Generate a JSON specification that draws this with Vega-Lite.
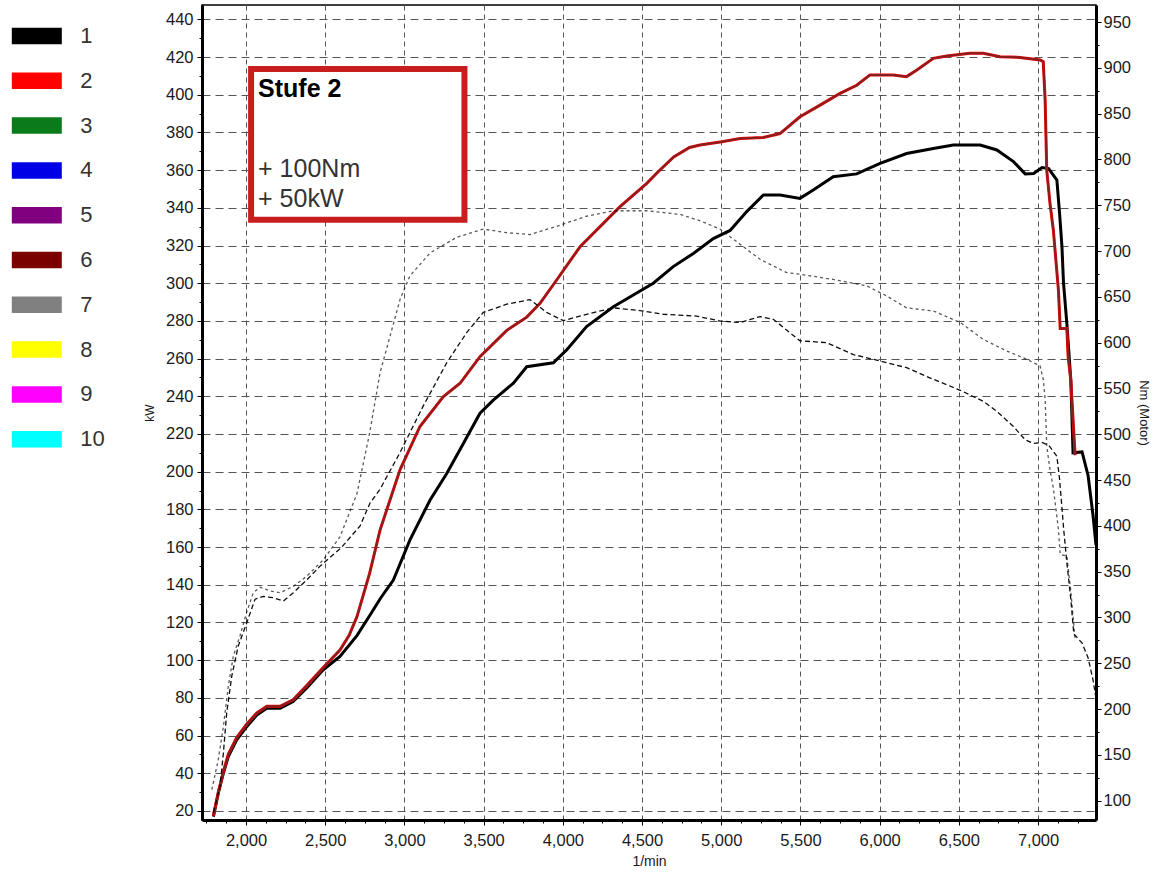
{
  "$schema": "https://vega.github.io/schema/vega-lite/v6.json",
  "width": 894,
  "height": 815,
  "autosize": {"type": "none"},
  "padding": {"left": 202, "top": 5, "right": 66, "bottom": 52},
  "background": "white",
  "config": {
    "view": {"stroke": "#000", "strokeWidth": 1.5},
    "axis": {
      "labelFont": "Liberation Sans", "labelFontSize": 16.5, "labelColor": "#1a1a1a",
      "titleFont": "Liberation Sans", "titleFontWeight": "normal", "titleColor": "#1a1a1a",
      "domainColor": "#000", "domainWidth": 3, "tickColor": "#000", "tickSize": 5, "tickWidth": 1,
      "gridColor": "#555555", "gridWidth": 1, "gridDash": [8, 5]
    }
  },
  "datasets": {
    "power": [
      {"rpm": 1794, "kW": 17, "s": "1"}, {"rpm": 1825, "kW": 29.4, "s": "1"}, {"rpm": 1857, "kW": 40, "s": "1"},
      {"rpm": 1888, "kW": 48.8, "s": "1"}, {"rpm": 1941, "kW": 57.7, "s": "1"}, {"rpm": 2004, "kW": 64.7, "s": "1"},
      {"rpm": 2068, "kW": 70.9, "s": "1"}, {"rpm": 2131, "kW": 74.5, "s": "1"}, {"rpm": 2215, "kW": 74.5, "s": "1"},
      {"rpm": 2297, "kW": 78, "s": "1"}, {"rpm": 2383, "kW": 85.3, "s": "1"}, {"rpm": 2486, "kW": 94.8, "s": "1"},
      {"rpm": 2593, "kW": 102, "s": "1"}, {"rpm": 2700, "kW": 113, "s": "1"}, {"rpm": 2783, "kW": 124, "s": "1"},
      {"rpm": 2850, "kW": 133, "s": "1"}, {"rpm": 2930, "kW": 142.5, "s": "1"}, {"rpm": 3035, "kW": 163.8, "s": "1"},
      {"rpm": 3162, "kW": 185, "s": "1"}, {"rpm": 3267, "kW": 199, "s": "1"}, {"rpm": 3372, "kW": 215, "s": "1"},
      {"rpm": 3477, "kW": 231, "s": "1"}, {"rpm": 3561, "kW": 238, "s": "1"}, {"rpm": 3688, "kW": 247, "s": "1"},
      {"rpm": 3772, "kW": 255.7, "s": "1"}, {"rpm": 3940, "kW": 257.8, "s": "1"}, {"rpm": 4024, "kW": 264.6, "s": "1"},
      {"rpm": 4150, "kW": 277, "s": "1"}, {"rpm": 4319, "kW": 287.5, "s": "1"}, {"rpm": 4445, "kW": 293.7, "s": "1"},
      {"rpm": 4571, "kW": 300, "s": "1"}, {"rpm": 4697, "kW": 308.8, "s": "1"}, {"rpm": 4824, "kW": 315.8, "s": "1"},
      {"rpm": 4950, "kW": 323.7, "s": "1"}, {"rpm": 5056, "kW": 328, "s": "1"}, {"rpm": 5161, "kW": 338, "s": "1"},
      {"rpm": 5266, "kW": 346.8, "s": "1"}, {"rpm": 5371, "kW": 346.8, "s": "1"}, {"rpm": 5497, "kW": 345, "s": "1"},
      {"rpm": 5581, "kW": 349.4, "s": "1"}, {"rpm": 5707, "kW": 356.5, "s": "1"}, {"rpm": 5855, "kW": 358, "s": "1"},
      {"rpm": 6003, "kW": 363.6, "s": "1"}, {"rpm": 6170, "kW": 368.8, "s": "1"}, {"rpm": 6339, "kW": 371.5, "s": "1"},
      {"rpm": 6465, "kW": 373.3, "s": "1"}, {"rpm": 6635, "kW": 373.3, "s": "1"}, {"rpm": 6740, "kW": 370.7, "s": "1"},
      {"rpm": 6845, "kW": 364.5, "s": "1"}, {"rpm": 6919, "kW": 358, "s": "1"}, {"rpm": 6972, "kW": 358.2, "s": "1"},
      {"rpm": 7025, "kW": 361.4, "s": "1"}, {"rpm": 7067, "kW": 360.8, "s": "1"}, {"rpm": 7119, "kW": 354.7, "s": "1"},
      {"rpm": 7136, "kW": 337, "s": "1"}, {"rpm": 7151, "kW": 319.4, "s": "1"}, {"rpm": 7161, "kW": 300, "s": "1"},
      {"rpm": 7182, "kW": 278.6, "s": "1"}, {"rpm": 7207, "kW": 248.6, "s": "1"}, {"rpm": 7221, "kW": 210, "s": "1"},
      {"rpm": 7278, "kW": 210.5, "s": "1"}, {"rpm": 7316, "kW": 198, "s": "1"}, {"rpm": 7347, "kW": 177, "s": "1"},
      {"rpm": 7366, "kW": 161, "s": "1"},
      {"rpm": 1794, "kW": 17.5, "s": "2"}, {"rpm": 1825, "kW": 30, "s": "2"}, {"rpm": 1857, "kW": 41, "s": "2"},
      {"rpm": 1888, "kW": 50, "s": "2"}, {"rpm": 1941, "kW": 59, "s": "2"}, {"rpm": 2004, "kW": 66, "s": "2"},
      {"rpm": 2068, "kW": 72, "s": "2"}, {"rpm": 2131, "kW": 75.5, "s": "2"}, {"rpm": 2215, "kW": 75.5, "s": "2"},
      {"rpm": 2297, "kW": 79, "s": "2"}, {"rpm": 2383, "kW": 86.5, "s": "2"}, {"rpm": 2486, "kW": 96, "s": "2"},
      {"rpm": 2593, "kW": 105.4, "s": "2"}, {"rpm": 2650, "kW": 113, "s": "2"}, {"rpm": 2700, "kW": 123, "s": "2"},
      {"rpm": 2780, "kW": 146, "s": "2"}, {"rpm": 2846, "kW": 169, "s": "2"}, {"rpm": 2972, "kW": 201, "s": "2"},
      {"rpm": 3098, "kW": 224, "s": "2"}, {"rpm": 3246, "kW": 239.8, "s": "2"}, {"rpm": 3351, "kW": 246.9, "s": "2"},
      {"rpm": 3477, "kW": 261, "s": "2"}, {"rpm": 3646, "kW": 275, "s": "2"}, {"rpm": 3772, "kW": 282, "s": "2"},
      {"rpm": 3856, "kW": 289.3, "s": "2"}, {"rpm": 3961, "kW": 301.7, "s": "2"}, {"rpm": 4109, "kW": 319.4, "s": "2"},
      {"rpm": 4235, "kW": 330, "s": "2"}, {"rpm": 4361, "kW": 340.6, "s": "2"}, {"rpm": 4530, "kW": 353, "s": "2"},
      {"rpm": 4600, "kW": 359, "s": "2"}, {"rpm": 4700, "kW": 367, "s": "2"}, {"rpm": 4800, "kW": 372, "s": "2"},
      {"rpm": 4866, "kW": 373.3, "s": "2"}, {"rpm": 5003, "kW": 375, "s": "2"}, {"rpm": 5119, "kW": 376.8, "s": "2"},
      {"rpm": 5266, "kW": 377.3, "s": "2"}, {"rpm": 5371, "kW": 379.4, "s": "2"}, {"rpm": 5497, "kW": 388.3, "s": "2"},
      {"rpm": 5624, "kW": 394.5, "s": "2"}, {"rpm": 5750, "kW": 400.7, "s": "2"}, {"rpm": 5855, "kW": 405, "s": "2"},
      {"rpm": 5939, "kW": 410.5, "s": "2"}, {"rpm": 6086, "kW": 410.5, "s": "2"}, {"rpm": 6170, "kW": 409.6, "s": "2"},
      {"rpm": 6233, "kW": 413, "s": "2"}, {"rpm": 6339, "kW": 419.3, "s": "2"}, {"rpm": 6423, "kW": 420.5, "s": "2"},
      {"rpm": 6570, "kW": 422, "s": "2"}, {"rpm": 6654, "kW": 422, "s": "2"}, {"rpm": 6760, "kW": 420.2, "s": "2"},
      {"rpm": 6886, "kW": 419.8, "s": "2"}, {"rpm": 7013, "kW": 418.4, "s": "2"}, {"rpm": 7033, "kW": 417.5, "s": "2"},
      {"rpm": 7045, "kW": 397, "s": "2"}, {"rpm": 7055, "kW": 360, "s": "2"}, {"rpm": 7076, "kW": 342, "s": "2"},
      {"rpm": 7097, "kW": 328, "s": "2"}, {"rpm": 7129, "kW": 296, "s": "2"}, {"rpm": 7140, "kW": 276, "s": "2"},
      {"rpm": 7182, "kW": 276, "s": "2"}, {"rpm": 7190, "kW": 261, "s": "2"}, {"rpm": 7207, "kW": 248.6, "s": "2"},
      {"rpm": 7234, "kW": 208.8, "s": "2"}
    ],
    "torque": [
      {"rpm": 1794, "Nm": 87, "s": "1"}, {"rpm": 1836, "Nm": 116, "s": "1"}, {"rpm": 1857, "Nm": 152, "s": "1"},
      {"rpm": 1878, "Nm": 196, "s": "1"}, {"rpm": 1910, "Nm": 236, "s": "1"}, {"rpm": 1951, "Nm": 269, "s": "1"},
      {"rpm": 2004, "Nm": 294, "s": "1"}, {"rpm": 2057, "Nm": 320, "s": "1"}, {"rpm": 2109, "Nm": 323, "s": "1"},
      {"rpm": 2172, "Nm": 321.5, "s": "1"}, {"rpm": 2236, "Nm": 318, "s": "1"}, {"rpm": 2299, "Nm": 327, "s": "1"},
      {"rpm": 2383, "Nm": 341, "s": "1"}, {"rpm": 2467, "Nm": 356, "s": "1"}, {"rpm": 2600, "Nm": 376, "s": "1"},
      {"rpm": 2720, "Nm": 400, "s": "1"}, {"rpm": 2783, "Nm": 425, "s": "1"}, {"rpm": 2846, "Nm": 440, "s": "1"},
      {"rpm": 2972, "Nm": 480, "s": "1"}, {"rpm": 3119, "Nm": 531, "s": "1"}, {"rpm": 3267, "Nm": 578, "s": "1"},
      {"rpm": 3393, "Nm": 611, "s": "1"}, {"rpm": 3498, "Nm": 633, "s": "1"}, {"rpm": 3646, "Nm": 642, "s": "1"},
      {"rpm": 3793, "Nm": 647, "s": "1"}, {"rpm": 3898, "Nm": 633, "s": "1"}, {"rpm": 4003, "Nm": 624, "s": "1"},
      {"rpm": 4150, "Nm": 631, "s": "1"}, {"rpm": 4319, "Nm": 638, "s": "1"}, {"rpm": 4487, "Nm": 635, "s": "1"},
      {"rpm": 4634, "Nm": 631, "s": "1"}, {"rpm": 4845, "Nm": 629, "s": "1"}, {"rpm": 4992, "Nm": 623.6, "s": "1"},
      {"rpm": 5119, "Nm": 622, "s": "1"}, {"rpm": 5245, "Nm": 628.5, "s": "1"}, {"rpm": 5329, "Nm": 625.5, "s": "1"},
      {"rpm": 5497, "Nm": 602, "s": "1"}, {"rpm": 5665, "Nm": 600, "s": "1"}, {"rpm": 5834, "Nm": 587, "s": "1"},
      {"rpm": 6003, "Nm": 580, "s": "1"}, {"rpm": 6170, "Nm": 572.7, "s": "1"}, {"rpm": 6339, "Nm": 560, "s": "1"},
      {"rpm": 6509, "Nm": 548, "s": "1"}, {"rpm": 6654, "Nm": 536, "s": "1"}, {"rpm": 6740, "Nm": 525, "s": "1"},
      {"rpm": 6845, "Nm": 508.5, "s": "1"}, {"rpm": 6919, "Nm": 494, "s": "1"}, {"rpm": 6972, "Nm": 490, "s": "1"},
      {"rpm": 7025, "Nm": 491, "s": "1"}, {"rpm": 7067, "Nm": 488, "s": "1"}, {"rpm": 7119, "Nm": 476, "s": "1"},
      {"rpm": 7136, "Nm": 451, "s": "1"}, {"rpm": 7151, "Nm": 420, "s": "1"}, {"rpm": 7161, "Nm": 398, "s": "1"},
      {"rpm": 7182, "Nm": 360, "s": "1"}, {"rpm": 7207, "Nm": 320, "s": "1"}, {"rpm": 7226, "Nm": 282, "s": "1"},
      {"rpm": 7278, "Nm": 272, "s": "1"}, {"rpm": 7316, "Nm": 256, "s": "1"}, {"rpm": 7347, "Nm": 232, "s": "1"},
      {"rpm": 7366, "Nm": 212, "s": "1"},
      {"rpm": 1784, "Nm": 112, "s": "2"}, {"rpm": 1825, "Nm": 145, "s": "2"}, {"rpm": 1857, "Nm": 181, "s": "2"},
      {"rpm": 1888, "Nm": 225, "s": "2"}, {"rpm": 1920, "Nm": 258, "s": "2"}, {"rpm": 1962, "Nm": 280, "s": "2"},
      {"rpm": 2004, "Nm": 305.6, "s": "2"}, {"rpm": 2046, "Nm": 327, "s": "2"}, {"rpm": 2088, "Nm": 333, "s": "2"},
      {"rpm": 2152, "Nm": 329, "s": "2"}, {"rpm": 2215, "Nm": 327, "s": "2"}, {"rpm": 2299, "Nm": 334, "s": "2"},
      {"rpm": 2383, "Nm": 345, "s": "2"}, {"rpm": 2488, "Nm": 363, "s": "2"}, {"rpm": 2593, "Nm": 388, "s": "2"},
      {"rpm": 2700, "Nm": 435, "s": "2"}, {"rpm": 2780, "Nm": 501, "s": "2"}, {"rpm": 2846, "Nm": 567, "s": "2"},
      {"rpm": 2909, "Nm": 607, "s": "2"}, {"rpm": 2972, "Nm": 647, "s": "2"}, {"rpm": 3035, "Nm": 673, "s": "2"},
      {"rpm": 3162, "Nm": 698, "s": "2"}, {"rpm": 3330, "Nm": 715, "s": "2"}, {"rpm": 3498, "Nm": 724, "s": "2"},
      {"rpm": 3646, "Nm": 720, "s": "2"}, {"rpm": 3793, "Nm": 718, "s": "2"}, {"rpm": 3961, "Nm": 727, "s": "2"},
      {"rpm": 4150, "Nm": 738, "s": "2"}, {"rpm": 4319, "Nm": 744, "s": "2"}, {"rpm": 4530, "Nm": 744, "s": "2"},
      {"rpm": 4741, "Nm": 740, "s": "2"}, {"rpm": 4867, "Nm": 733, "s": "2"}, {"rpm": 4992, "Nm": 724, "s": "2"},
      {"rpm": 5076, "Nm": 713, "s": "2"}, {"rpm": 5245, "Nm": 691, "s": "2"}, {"rpm": 5413, "Nm": 676.5, "s": "2"},
      {"rpm": 5497, "Nm": 674.7, "s": "2"}, {"rpm": 5707, "Nm": 669, "s": "2"}, {"rpm": 5918, "Nm": 662, "s": "2"},
      {"rpm": 6044, "Nm": 651, "s": "2"}, {"rpm": 6170, "Nm": 638, "s": "2"}, {"rpm": 6339, "Nm": 634.6, "s": "2"},
      {"rpm": 6509, "Nm": 622, "s": "2"}, {"rpm": 6654, "Nm": 603.6, "s": "2"}, {"rpm": 6801, "Nm": 591, "s": "2"},
      {"rpm": 6927, "Nm": 582, "s": "2"}, {"rpm": 7013, "Nm": 574.5, "s": "2"}, {"rpm": 7033, "Nm": 560, "s": "2"},
      {"rpm": 7045, "Nm": 538, "s": "2"}, {"rpm": 7055, "Nm": 487, "s": "2"}, {"rpm": 7076, "Nm": 461, "s": "2"},
      {"rpm": 7097, "Nm": 441, "s": "2"}, {"rpm": 7129, "Nm": 396, "s": "2"}, {"rpm": 7140, "Nm": 369, "s": "2"},
      {"rpm": 7182, "Nm": 367, "s": "2"}, {"rpm": 7207, "Nm": 329, "s": "2"}, {"rpm": 7234, "Nm": 276, "s": "2"}
    ],
    "box": [{"x1": 2032, "x2": 3379, "y1": 413.6, "y2": 333.6}],
    "head": [{"rpm": 2076, "kW": 398.8, "t": "Stufe 2"}],
    "notes": [{"rpm": 2076, "kW": 356.4, "t": "+ 100Nm"}, {"rpm": 2076, "kW": 340.5, "t": "+ 50kW"}]
  },
  "layer": [
    {
      "data": {"name": "power"},
      "mark": {"type": "line", "strokeWidth": 3, "interpolate": "linear"},
      "encoding": {
        "x": {"field": "rpm", "type": "quantitative",
              "scale": {"domain": [1722, 7366], "nice": false, "zero": false},
              "axis": {"orient": "bottom", "title": "1/min", "titleFontSize": 14, "titlePadding": 6,
                       "values": [2000, 2500, 3000, 3500, 4000, 4500, 5000, 5500, 6000, 6500, 7000],
                       "format": ",.0f", "labelPadding": 7, "grid": true, "gridDash": [5, 4]}},
        "y": {"field": "kW", "type": "quantitative",
              "scale": {"domain": [15.2, 447.6], "nice": false, "zero": false},
              "axis": {"orient": "left", "title": "kW", "titleFontSize": 12, "titlePadding": 9,
                       "values": [20, 40, 60, 80, 100, 120, 140, 160, 180, 200, 220, 240, 260, 280, 300, 320, 340, 360, 380, 400, 420, 440],
                       "labelPadding": 4, "grid": true}},
        "color": {"field": "s", "type": "nominal",
                  "scale": {"domain": ["1", "2", "3", "4", "5", "6", "7", "8", "9", "10"],
                            "range": ["#000000", "#ff0000", "#0a7a1a", "#0000e6", "#800080", "#7a0000", "#808080", "#ffff00", "#ff00ff", "#00ffff"]},
                  "legend": {"title": null, "orient": "none", "legendX": -177.7, "legendY": 18.5, "padding": 0,
                             "symbolType": "M-2,-0.66H2V0.66H-2Z", "symbolSize": 625, "symbolStrokeWidth": 0,
                             "rowPadding": 20.8, "labelOffset": 31, "labelFont": "Liberation Sans",
                             "labelFontSize": 22, "labelColor": "#333333", "labelLimit": 100,
                             "encode": {"symbols": {"update": {"fill": {"scale": "color", "field": "value"}, "strokeWidth": {"value": 0}, "fillOpacity": {"value": 1}}}}}}
      }
    },
    {
      "data": {"name": "power"},
      "transform": [{"filter": "datum.s == '2'"}],
      "mark": {"type": "line", "strokeWidth": 2, "color": "#862020"},
      "encoding": {
        "x": {"field": "rpm", "type": "quantitative", "scale": {"domain": [1722, 7366], "nice": false, "zero": false}, "axis": null},
        "y": {"field": "kW", "type": "quantitative", "scale": {"domain": [15.2, 447.6], "nice": false, "zero": false}, "axis": null}
      }
    },
    {
      "data": {"name": "box"},
      "mark": {"type": "rect", "fill": "white", "stroke": "#c81e1e", "strokeWidth": 6},
      "encoding": {
        "x": {"field": "x1", "type": "quantitative", "scale": {"domain": [1722, 7366], "nice": false, "zero": false}, "axis": null},
        "x2": {"field": "x2"},
        "y": {"field": "y1", "type": "quantitative", "scale": {"domain": [15.2, 447.6], "nice": false, "zero": false}, "axis": null},
        "y2": {"field": "y2"}
      }
    },
    {
      "data": {"name": "head"},
      "mark": {"type": "text", "align": "left", "baseline": "alphabetic", "font": "Liberation Sans", "fontWeight": "bold", "fontSize": 25, "color": "#000"},
      "encoding": {
        "x": {"field": "rpm", "type": "quantitative", "scale": {"domain": [1722, 7366], "nice": false, "zero": false}, "axis": null},
        "y": {"field": "kW", "type": "quantitative", "scale": {"domain": [15.2, 447.6], "nice": false, "zero": false}, "axis": null},
        "text": {"field": "t"}
      }
    },
    {
      "data": {"name": "notes"},
      "mark": {"type": "text", "align": "left", "baseline": "alphabetic", "font": "Liberation Sans", "fontSize": 25, "color": "#333"},
      "encoding": {
        "x": {"field": "rpm", "type": "quantitative", "scale": {"domain": [1722, 7366], "nice": false, "zero": false}, "axis": null},
        "y": {"field": "kW", "type": "quantitative", "scale": {"domain": [15.2, 447.6], "nice": false, "zero": false}, "axis": null},
        "text": {"field": "t"}
      }
    },
    {
      "data": {"name": "torque"},
      "mark": {"type": "line", "strokeWidth": 1.3, "color": "#000"},
      "encoding": {
        "x": {"field": "rpm", "type": "quantitative", "scale": {"domain": [1722, 7366], "nice": false, "zero": false}, "axis": null},
        "y": {"field": "Nm", "type": "quantitative",
              "scale": {"domain": [78.9, 968.6], "nice": false, "zero": false},
              "axis": {"orient": "right", "title": "Nm (Motor)", "titleFontSize": 13, "titlePadding": 6,
                       "values": [100, 150, 200, 250, 300, 350, 400, 450, 500, 550, 600, 650, 700, 750, 800, 850, 900, 950],
                       "labelPadding": 2, "grid": false}},
        "strokeDash": {"field": "s", "type": "nominal", "scale": {"domain": ["1", "2"], "range": [[5, 3], [3, 3]]}, "legend": null},
        "strokeOpacity": {"field": "s", "type": "nominal", "scale": {"domain": ["1", "2"], "range": [0.95, 0.65]}, "legend": null}
      }
    },
    {
      "data": {"name": "power"},
      "mark": {"type": "point", "opacity": 0},
      "encoding": {
        "x": {"field": "rpm", "type": "quantitative", "scale": {"domain": [1722, 7366], "nice": false, "zero": false},
              "axis": {"orient": "bottom", "title": null, "labels": false, "domain": false, "grid": false, "tickSize": 3,
                       "values": [1750, 1875, 2125, 2250, 2375, 2625, 2750, 2875, 3125, 3250, 3375, 3625, 3750, 3875, 4125, 4250, 4375, 4625, 4750, 4875, 5125, 5250, 5375, 5625, 5750, 5875, 6125, 6250, 6375, 6625, 6750, 6875, 7125, 7250]}},
        "y": {"field": "kW", "type": "quantitative", "scale": {"domain": [15.2, 447.6], "nice": false, "zero": false},
              "axis": {"orient": "left", "title": null, "labels": false, "domain": false, "grid": false, "tickSize": 3,
                       "values": [30, 50, 70, 90, 110, 130, 150, 170, 190, 210, 230, 250, 270, 290, 310, 330, 350, 370, 390, 410, 430]}}
      }
    },
    {
      "data": {"name": "torque"},
      "mark": {"type": "point", "opacity": 0},
      "encoding": {
        "x": {"field": "rpm", "type": "quantitative", "scale": {"domain": [1722, 7366], "nice": false, "zero": false}, "axis": null},
        "y": {"field": "Nm", "type": "quantitative", "scale": {"domain": [78.9, 968.6], "nice": false, "zero": false},
              "axis": {"orient": "right", "title": null, "labels": false, "domain": false, "grid": false, "tickSize": 3,
                       "values": [125, 175, 225, 275, 325, 375, 425, 475, 525, 575, 625, 675, 725, 775, 825, 875, 925]}}
      }
    }
  ],
  "resolve": {"scale": {"y": "independent"}, "axis": {"x": "independent"}}
}
